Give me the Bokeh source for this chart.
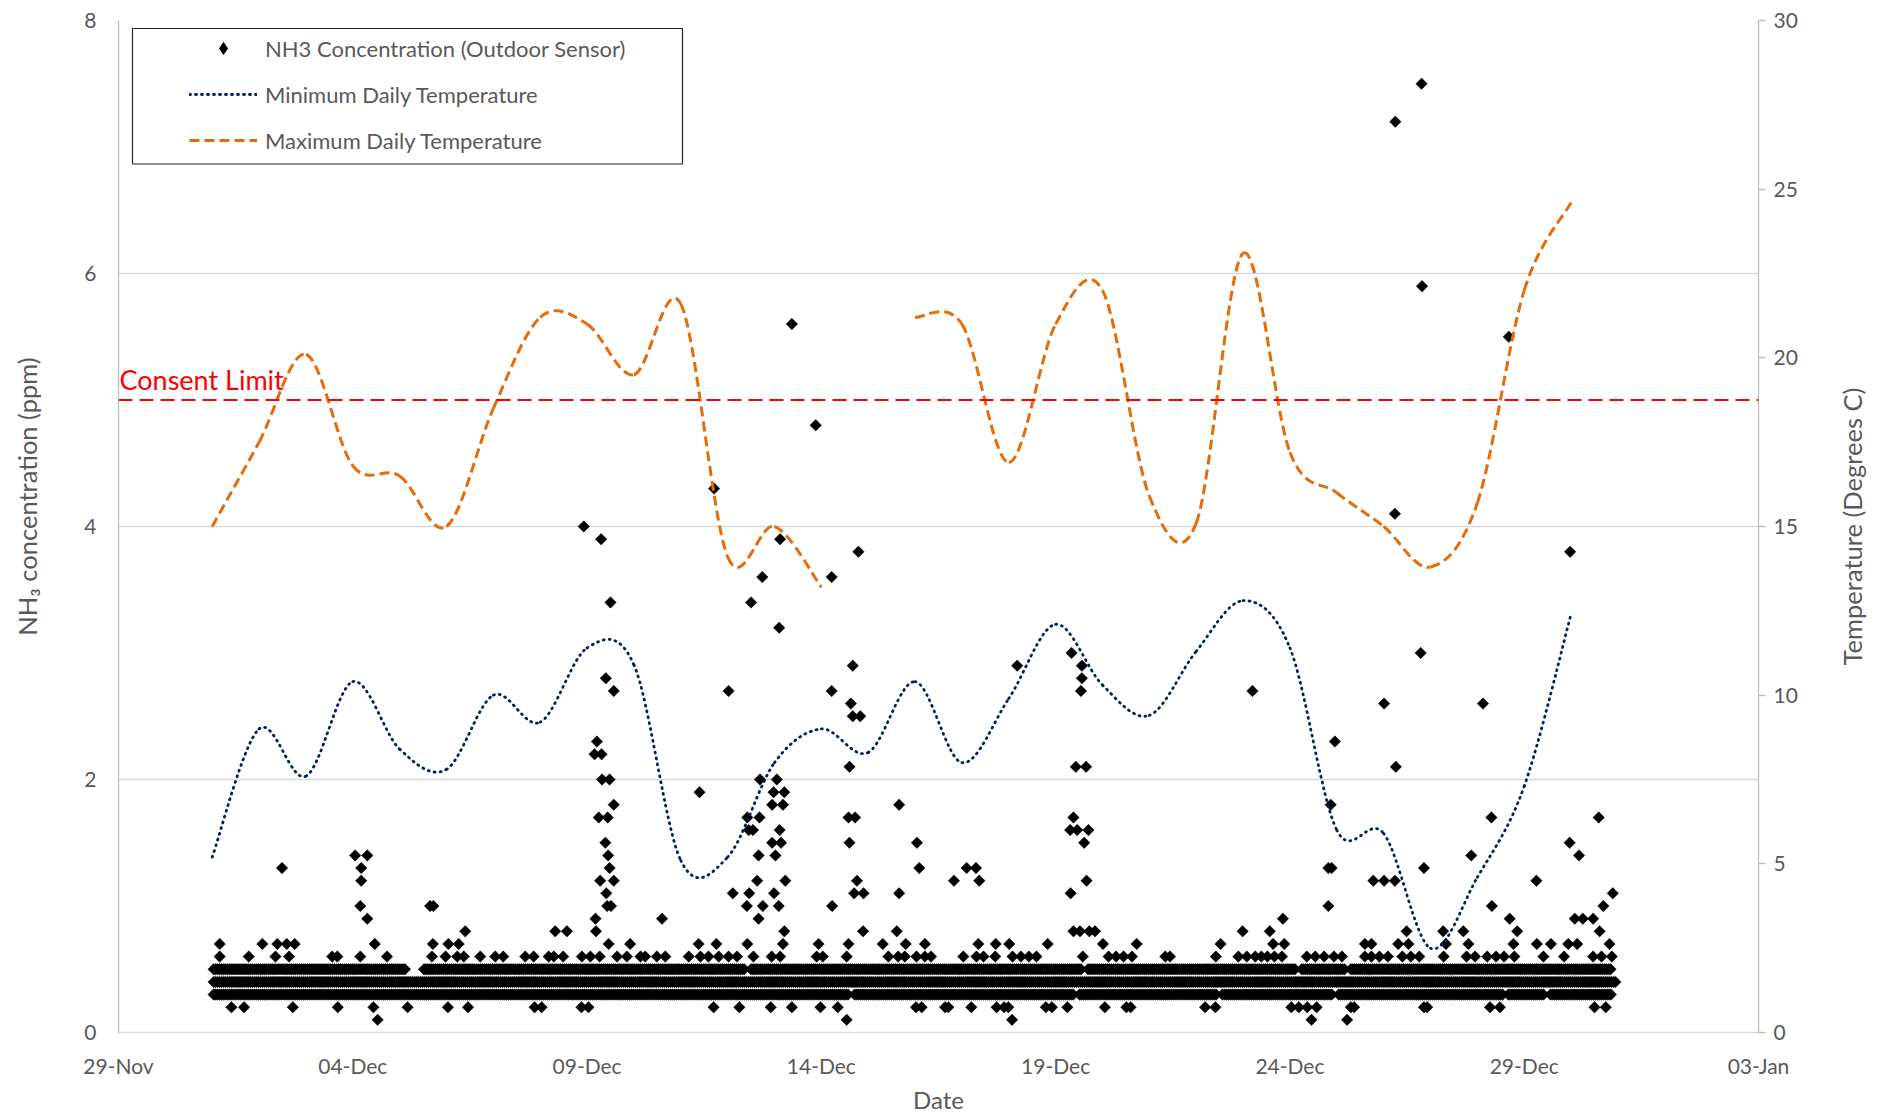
import numpy as np
from datetime import datetime, timezone
from bokeh.plotting import figure
from bokeh.layouts import row
from bokeh.models import (Range1d, LinearAxis, FixedTicker, DatetimeTickFormatter, Span,
                          Label, Legend, LegendItem, BoxAnnotation)
from bokeh.embed import file_html
from bokeh.resources import INLINE

# ---------------- data ----------------
# day numbers: 1.0 = 1 Dec 00:00 (days after 30 Nov 2017)
x_tick_days = [-1, 4, 9, 14, 19, 24, 29, 34]
x_tick_labels = ["29-Nov", "04-Dec", "09-Dec", "14-Dec", "19-Dec", "24-Dec", "29-Dec", "03-Jan"]

temp_days = list(range(1, 31))
min_daily_temp = [5.2, 9.0, 7.6, 10.4, 8.4, 7.8, 10.0, 9.2, 11.4, 10.9, 5.1, 5.2, 8.0, 9.0, 8.3,
                  10.4, 8.0, 9.9, 12.1, 10.3, 9.4, 11.3, 12.8, 11.4, 6.0, 5.9, 2.5, 4.6, 7.3, 12.4]
max_daily_temp = [15.0, 17.5, 20.1, 16.8, 16.5, 15.0, 18.5, 21.2, 21.0, 19.5, 21.6, 14.1, 15.0, 13.2, None,
                  21.2, 21.0, 16.9, 21.0, 22.0, 15.9, 15.1, 23.1, 17.2, 16.0, 15.0, 13.8, 15.7, 22.0, 24.6]

consent_limit_ppm = 5.0

# dense baseline readings: periods (start day, end day) with a reading every hour
reading_step_days = 1 / 24
baseline_0p4 = [(1.03, 30.97)]
baseline_0p5 = [(1.03, 5.13), (5.52, 12.38), (12.50, 19.57), (19.69, 24.13), (24.25, 25.18), (25.30, 30.86)]
baseline_0p3 = [(1.03, 14.59), (14.71, 19.39), (19.51, 22.44), (22.56, 24.92), (25.04, 28.54),
                (28.66, 29.44), (29.56, 30.86)]

# individual readings away from the baseline: ppm level -> days
readings_low = {
    0.1: [4.53, 14.54, 18.07, 24.46, 25.22],
    0.2: [1.41, 1.68, 2.72, 3.68, 4.44, 5.17, 6.03, 6.46, 7.88, 8.03, 8.88, 9.03, 11.70, 12.25, 12.92,
          13.37, 13.98, 14.35, 16.02, 16.14, 16.64, 16.71, 17.20, 17.74, 17.90, 17.99, 18.79, 18.92,
          19.25, 20.05, 20.51, 20.60, 22.19, 22.41, 24.03, 24.19, 24.37, 24.57, 25.30, 25.37, 26.86,
          26.93, 28.27, 28.48, 30.50, 30.74],
    0.6: [1.16, 1.78, 2.35, 2.64, 3.56, 3.67, 4.16, 4.73, 5.69, 5.98, 6.23, 6.37, 6.72, 7.04, 7.21,
          7.68, 7.86, 8.18, 8.29, 8.49, 8.89, 9.07, 9.27, 9.64, 9.85, 10.14, 10.24, 10.49, 10.67, 11.17,
          11.42, 11.59, 11.81, 12.02, 12.20, 12.55, 12.94, 13.12, 13.90, 14.03, 14.54, 15.43, 15.64,
          15.78, 16.03, 16.21, 16.34, 17.03, 17.31, 17.46, 17.71, 18.08, 18.26, 18.43, 18.59, 19.58,
          20.13, 20.29, 20.45, 20.63, 21.34, 21.44, 22.42, 22.90, 23.08, 23.26, 23.39, 23.52, 23.67,
          23.83, 24.36, 24.54, 24.73, 24.94, 25.11, 25.60, 25.74, 25.91, 26.09, 26.40, 26.58, 26.76,
          27.28, 27.77, 27.95, 28.21, 28.40, 28.57, 28.79, 29.41, 29.85, 30.47, 30.65, 30.87],
    0.7: [1.16, 2.07, 2.39, 2.59, 2.76, 4.47, 5.71, 6.04, 6.26, 9.46, 9.92, 11.38, 11.76, 12.42, 13.18,
          13.94, 14.58, 15.31, 15.80, 16.21, 17.35, 17.72, 18.01, 18.83, 20.01, 20.73, 22.52, 23.64,
          23.88, 25.60, 25.74, 26.31, 26.53, 27.33, 27.81, 28.77, 29.27, 29.57, 29.94, 30.13, 30.82],
    0.8: [6.40, 8.32, 8.57, 9.19, 13.21, 14.89, 15.61, 19.38, 19.52, 19.72, 19.84, 22.99, 23.57, 26.49,
          27.27, 27.70, 28.85, 30.61],
    0.9: [4.31, 9.18, 10.60, 12.66, 23.85, 28.69, 30.08, 30.25, 30.47],
    1.0: [4.16, 5.65, 5.72, 9.43, 9.51, 12.41, 12.75, 13.09, 14.23, 24.82, 28.31, 30.69],
}
readings_high = {
    1.1: [9.41, 12.11, 12.46, 12.99, 14.70, 14.90, 15.66, 19.32, 30.89],
    1.2: [4.18, 9.28, 9.57, 12.63, 13.23, 14.76, 16.83, 17.37, 19.66, 25.78, 26.01, 26.24, 29.26],
    1.3: [2.49, 4.18, 9.48, 16.09, 17.10, 17.30, 24.82, 24.89, 26.86],
    1.4: [4.05, 4.31, 9.45, 12.66, 13.02, 27.87, 30.17],
    1.5: [9.39, 12.95, 13.14, 14.60, 16.04, 19.61, 29.97],
    1.6: [12.45, 12.54, 13.11, 19.31, 19.46, 19.70],
    1.7: [9.25, 9.44, 12.42, 12.68, 14.58, 14.72, 19.38, 28.30, 30.59],
    1.8: [9.57, 12.95, 13.18, 15.66, 24.87],
    1.9: [11.40, 12.98, 13.21],
    2.0: [9.32, 9.48, 12.69, 13.05],
    2.1: [14.60, 19.43, 19.65, 26.26],
    2.2: [9.16, 9.31],
    2.3: [9.21, 24.96],
    2.5: [14.67, 14.83],
    2.6: [14.63, 26.01, 28.12],
    2.7: [9.57, 12.02, 14.22, 19.54, 23.20],
    2.8: [9.40, 19.56],
    2.9: [14.67, 18.18, 19.56],
    3.0: [19.34, 26.79],
    3.2: [13.10],
    3.4: [9.50, 12.50],
    3.6: [12.74, 14.22],
    3.8: [14.79, 29.98],
    3.9: [9.30, 13.12],
    4.0: [8.93],
    4.1: [26.24],
    4.3: [11.71],
    4.8: [13.88],
    5.5: [28.67],
    5.6: [13.37],
    5.9: [26.82],
    7.2: [26.25],
    7.5: [26.81],
}

left_title = "NH\u2083 concentration (ppm)"
right_title = "Temperature (Degrees C)"
x_title = "Date"

# ---------------- helpers ----------------
BASE_MS = datetime(2017, 11, 30, tzinfo=timezone.utc).timestamp() * 1000.0
DAY_MS = 86400000.0
NAN = float("nan")


def to_ms(d):
    return BASE_MS + d * DAY_MS


nh3_day, nh3_ppm = [], []
for level, periods in ((0.3, baseline_0p3), (0.4, baseline_0p4), (0.5, baseline_0p5)):
    for a, b in periods:
        for d in np.arange(a, b + 1e-9, reading_step_days):
            nh3_day.append(d)
            nh3_ppm.append(level)
for table in (readings_low, readings_high):
    for level, days in table.items():
        for d in days:
            nh3_day.append(d)
            nh3_ppm.append(level)
nh3_x = [to_ms(d) for d in nh3_day]


def bezier_pieces(days, vals):
    """Split at missing values; smooth (Excel-like) cubic pieces through the daily points."""
    runs, cur = [], []
    for d, v in zip(days, vals):
        if v is None:
            if cur:
                runs.append(cur)
            cur = []
        else:
            cur.append((to_ms(d), v))
    if cur:
        runs.append(cur)
    out = dict(x0=[], y0=[], x1=[], y1=[], cx0=[], cy0=[], cx1=[], cy1=[])
    for run in runs:
        n = len(run)
        for i in range(n - 1):
            p0 = run[i - 1] if i > 0 else run[i]
            p1, p2 = run[i], run[i + 1]
            p3 = run[i + 2] if i + 2 < n else run[i + 1]
            out["x0"].append(p1[0]); out["y0"].append(p1[1])
            out["x1"].append(p2[0]); out["y1"].append(p2[1])
            out["cx0"].append(p1[0] + (p2[0] - p0[0]) / 6); out["cy0"].append(p1[1] + (p2[1] - p0[1]) / 6)
            out["cx1"].append(p2[0] - (p3[0] - p1[0]) / 6); out["cy1"].append(p2[1] - (p3[1] - p1[1]) / 6)
    return out


# ---------------- layout constants ----------------
FONT = "Lato"
GREY_TEXT = "#595959"
H = 1117
FRAME_TOP = 20
FRAME_H = 1012
FRAME_BOTTOM = FRAME_TOP + FRAME_H
LEFT_W = 60
RIGHT_W = 75
MAIN_W = 1885 - LEFT_W - RIGHT_W


def title_strip(width, text, cx, cy_from_top):
    f = figure(width=width, height=H, output_backend="svg", toolbar_location=None,
               x_range=Range1d(0, 1), y_range=Range1d(0, 1),
               x_axis_location=None, y_axis_location=None,
               min_border_left=0, min_border_right=0,
               min_border_top=FRAME_TOP, min_border_bottom=H - FRAME_BOTTOM)
    f.grid.visible = False
    f.outline_line_color = None
    f.add_layout(Label(x=cx, y=FRAME_BOTTOM - cy_from_top, x_units="screen", y_units="screen",
                       angle=np.pi / 2, text=text, text_font=FONT, text_font_size="25.5px",
                       text_color=GREY_TEXT, text_align="center", text_baseline="middle"))
    return f


# ---------------- main figure ----------------
p = figure(width=MAIN_W, height=H, output_backend="svg", toolbar_location=None,
           x_axis_type="datetime",
           x_range=Range1d(to_ms(x_tick_days[0]), to_ms(x_tick_days[-1])),
           y_range=Range1d(0, 8),
           min_border_left=118 - LEFT_W, min_border_right=1885 - RIGHT_W - 1758,
           min_border_top=FRAME_TOP, min_border_bottom=H - FRAME_BOTTOM)
p.extra_y_ranges = {"temp": Range1d(0, 30)}
p.outline_line_color = None
p.background_fill_color = "white"

# x axis
xt = [to_ms(d) for d in x_tick_days]
p.xaxis.ticker = FixedTicker(ticks=xt)
p.xaxis.formatter = DatetimeTickFormatter(days="%d-%b", months="%d-%b", hours="%d-%b")
p.xaxis.major_label_overrides = {t: lab for t, lab in zip(xt, x_tick_labels)}
p.xaxis.major_tick_line_color = None
p.xaxis.major_tick_out = 0
p.xaxis.minor_tick_line_color = None
p.xaxis.axis_line_color = "#d9d9d9"
p.xaxis.axis_line_width = 1.5
p.xaxis.major_label_standoff = 20
p.xaxis.major_label_text_font = FONT
p.xaxis.major_label_text_font_size = "21px"
p.xaxis.major_label_text_color = GREY_TEXT
p.xaxis.axis_label = x_title
p.xaxis.axis_label_standoff = 4
p.xaxis.axis_label_text_font = FONT
p.xaxis.axis_label_text_font_size = "24px"
p.xaxis.axis_label_text_font_style = "normal"
p.xaxis.axis_label_text_color = GREY_TEXT

# left axis
p.yaxis.ticker = FixedTicker(ticks=[0, 2, 4, 6, 8])
p.yaxis.major_tick_line_color = None
p.yaxis.major_tick_out = 0
p.yaxis.minor_tick_line_color = None
p.yaxis.axis_line_color = "#bfbfbf"
p.yaxis.axis_line_width = 1.3
p.yaxis.major_label_standoff = 22
p.yaxis.major_label_text_font = FONT
p.yaxis.major_label_text_font_size = "21px"
p.yaxis.major_label_text_color = GREY_TEXT

# right axis
ra = LinearAxis(y_range_name="temp", ticker=FixedTicker(ticks=[0, 5, 10, 15, 20, 25, 30]))
ra.major_tick_in = 0
ra.major_tick_out = 7
ra.major_tick_line_color = "#bfbfbf"
ra.major_tick_line_width = 1.3
ra.minor_tick_line_color = None
ra.axis_line_color = "#bfbfbf"
ra.axis_line_width = 1.3
ra.major_label_standoff = 8
ra.major_label_text_font = FONT
ra.major_label_text_font_size = "21px"
ra.major_label_text_color = GREY_TEXT
p.add_layout(ra, "right")

p.xgrid.visible = False
p.ygrid.grid_line_color = "#d9d9d9"
p.ygrid.grid_line_width = 1.5

# scatter
nh3_r = p.scatter(x=nh3_x, y=nh3_ppm, marker="square", angle=np.pi / 4, size=8.1,
                  fill_color="black", line_color="black", line_width=0.5)

# temperature lines (smoothed through the daily values)
mn = bezier_pieces(temp_days, min_daily_temp)
p.bezier(y_range_name="temp", line_color="#002060", line_width=2.8, line_dash="1 5",
         line_cap="round", **mn)
mx = bezier_pieces(temp_days, max_daily_temp)
p.bezier(y_range_name="temp", line_color="#E46C0A", line_width=3, line_dash="10 5", **mx)

# legend proxies (a single missing value each, so nothing is drawn in the plot)
nh3_leg = p.scatter(x=[NAN], y=[NAN], marker="diamond", size=13, fill_color="black", line_color="black")
min_leg = p.line(x=[NAN], y=[NAN], y_range_name="temp", line_color="#002060", line_width=2.8,
                 line_dash="1 5", line_cap="round")
max_leg = p.line(x=[NAN], y=[NAN], y_range_name="temp", line_color="#E46C0A", line_width=3,
                 line_dash="10 5")

# consent limit
p.add_layout(Span(location=consent_limit_ppm, dimension="width", line_color="#ff0000",
                  line_width=2, line_dash="14 7"))
p.add_layout(Label(x=1, x_units="screen", y=consent_limit_ppm / 8 * FRAME_H + 21, y_units="screen",
                   text="Consent Limit",
                   text_font=FONT, text_font_size="27px", text_color="#ff0000",
                   text_baseline="middle", text_align="left"))

legend = Legend(items=[LegendItem(label="NH3 Concentration (Outdoor Sensor)", renderers=[nh3_leg]),
                       LegendItem(label="Minimum Daily Temperature", renderers=[min_leg]),
                       LegendItem(label="Maximum Daily Temperature", renderers=[max_leg])],
                location=(71, 877), orientation="vertical",
                glyph_width=68, glyph_height=30, label_height=30, spacing=16, padding=7,
                label_standoff=8, label_text_font=FONT, label_text_font_size="22px",
                label_text_color=GREY_TEXT, border_line_color=None, background_fill_alpha=0)
p.add_layout(legend)
p.add_layout(BoxAnnotation(left=14, right=564, bottom=868.5, top=1004,
                           left_units="screen", right_units="screen",
                           bottom_units="screen", top_units="screen",
                           fill_alpha=0, line_color="#262626", line_width=1.2, line_alpha=1))

left_strip = title_strip(LEFT_W, left_title, 26.5, 496)
right_strip = title_strip(RIGHT_W, right_title, 1851 - (1885 - RIGHT_W), FRAME_TOP + FRAME_H / 2)

layout = row(left_strip, p, right_strip, spacing=0)
open("out.html", "w").write(file_html(layout, INLINE))
